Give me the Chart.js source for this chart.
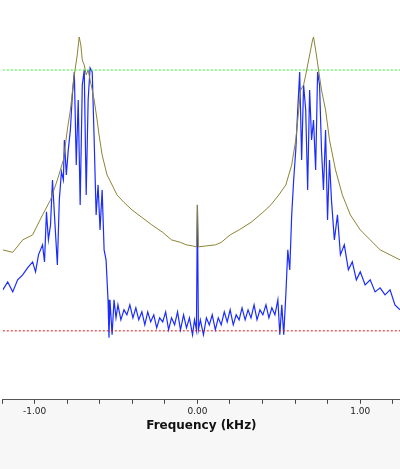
<!DOCTYPE html>
<html><head><meta charset="utf-8">
<script src="https://cdn.jsdelivr.net/npm/chart.js@4/dist/chart.umd.min.js"></script>
<style>html,body{margin:0;padding:0;background:#fff}#w{width:400px;height:469px}</style>
</head><body><div id="w"><canvas id="c"></canvas></div>
<script>
const olFreq=[-1.195,-1.134,-1.073,-1.012,-0.951,-0.902,-0.860,-0.823,-0.799,-0.780,-0.756,-0.738,-0.726,-0.716,-0.707,-0.695,-0.683,-0.671,-0.659,-0.646,-0.634,-0.616,-0.604,-0.585,-0.555,-0.524,-0.494,-0.451,-0.402,-0.341,-0.280,-0.213,-0.159,-0.104,-0.067,-0.030,-0.006,0,0.006,0.055,0.110,0.146,0.201,0.256,0.329,0.402,0.451,0.500,0.543,0.579,0.604,0.622,0.634,0.652,0.665,0.677,0.695,0.707,0.713,0.726,0.744,0.762,0.787,0.811,0.848,0.890,0.939,1.000,1.061,1.122,1.183,1.244];
const olLevel=[-50,-50.5,-48,-47,-43,-40,-36,-32,-26,-22,-15,-11,-7.4,-9,-12,-13,-15,-14,-16,-18,-20,-24,-27,-31,-35,-37,-39,-40.5,-42,-43.5,-45,-46.5,-48,-48.5,-49,-49.2,-49.4,-41,-49.4,-49.2,-49,-48.5,-47,-46,-44.5,-42.5,-41,-39,-37,-33,-28,-22,-18,-17,-15,-13,-10,-8,-7.4,-10,-14,-18,-22,-28,-34,-39,-43,-46,-48,-50,-51,-52];
const blFreq=[-1.195,-1.165,-1.134,-1.104,-1.073,-1.043,-1.012,-0.994,-0.976,-0.951,-0.939,-0.927,-0.915,-0.902,-0.890,-0.878,-0.860,-0.848,-0.835,-0.823,-0.817,-0.805,-0.793,-0.780,-0.768,-0.756,-0.744,-0.732,-0.720,-0.707,-0.695,-0.683,-0.671,-0.659,-0.646,-0.634,-0.622,-0.610,-0.598,-0.585,-0.573,-0.561,-0.549,-0.543,-0.537,-0.524,-0.512,-0.500,-0.488,-0.470,-0.451,-0.433,-0.415,-0.396,-0.378,-0.360,-0.341,-0.323,-0.305,-0.287,-0.268,-0.250,-0.232,-0.213,-0.195,-0.177,-0.159,-0.140,-0.122,-0.104,-0.085,-0.067,-0.049,-0.030,-0.018,-0.006,0,0.006,0.018,0.037,0.055,0.073,0.091,0.110,0.128,0.146,0.165,0.183,0.201,0.220,0.238,0.256,0.274,0.293,0.311,0.329,0.348,0.366,0.384,0.402,0.421,0.439,0.457,0.476,0.494,0.506,0.518,0.530,0.543,0.555,0.567,0.579,0.591,0.604,0.616,0.628,0.640,0.652,0.665,0.677,0.689,0.701,0.713,0.726,0.738,0.750,0.762,0.774,0.787,0.799,0.811,0.823,0.841,0.860,0.878,0.902,0.927,0.951,0.976,1.000,1.030,1.061,1.091,1.122,1.152,1.183,1.213,1.244];
const blLevel=[-58,-56.4,-58.4,-56,-55,-53.6,-52.4,-54.4,-51,-49,-52.4,-42.4,-48,-45,-36,-43,-53,-40,-34.4,-36,-28,-35,-30,-26,-19,-14.4,-33,-20,-41,-17,-14,-39,-20,-13.6,-14.4,-28,-43,-37,-46,-38,-50,-52,-60,-67.6,-60,-67,-60,-63.6,-61,-64,-62,-63,-61,-63.6,-61.6,-64,-62.4,-65,-62.4,-64.4,-63,-65.6,-63.6,-64.4,-62.4,-66,-63.6,-65,-62.4,-66,-63,-65.6,-63.6,-67,-64,-66,-41,-66,-64,-67,-63.6,-65,-63,-66,-63.6,-65,-62.4,-64.4,-62,-65,-63,-64,-61.6,-64,-62,-63.6,-61,-64,-62,-63,-61,-63.6,-61.6,-63,-60,-67,-61,-67,-59,-50,-54,-43,-36,-30,-22,-14.4,-32,-17,-22,-38,-18,-28,-24,-34,-14.4,-17,-30,-38,-26,-44,-32,-40,-48,-43,-51,-49,-54,-52.4,-56,-54.4,-57,-56,-58.4,-57.6,-59,-58,-61,-62];
const refHigh=-14, refLow=-66.2;
const xMin=-1.195, xMax=1.244;

const toPts=(xs,ys)=>xs.map((x,i)=>({x:x,y:ys[i]}));
const bgPlugin={id:'bg',beforeDraw(ch){const {ctx,chartArea:a}=ch;ctx.save();ctx.fillStyle='#f7f7f7';ctx.fillRect(0,a.bottom,ch.width,ch.height-a.bottom);ctx.restore();}};
new Chart(document.getElementById('c'),{
 type:'line',
 data:{datasets:[
  {data:toPts([xMin,xMax],[refHigh,refHigh]),borderColor:'#22ff22',borderWidth:1,borderDash:[2,2],pointRadius:0},
  {data:toPts([xMin,xMax],[refLow,refLow]),borderColor:'#dd1111',borderWidth:1,borderDash:[2,2],pointRadius:0},
  {data:toPts(olFreq,olLevel),borderColor:'#8c8435',borderWidth:1,pointRadius:0,tension:0},
  {data:toPts(blFreq,blLevel),borderColor:'#1a2cff',borderWidth:1.2,pointRadius:0,tension:0}
 ]},
 plugins:[bgPlugin],
 options:{responsive:true,maintainAspectRatio:false,animation:false,
  layout:{padding:{left:0,right:0,top:0,bottom:36}},
  plugins:{legend:{display:false},tooltip:{enabled:false}},
  scales:{
   y:{display:false,min:-80,max:0},
   x:{type:'linear',min:xMin,max:xMax,
    afterBuildTicks(s){s.ticks=[];for(let v=-1.2;v<=1.2001;v+=0.2){s.ticks.push({value:Math.round(v*10)/10});}},
    ticks:{autoSkip:false,maxRotation:0,padding:2,color:'#222',font:{family:'DejaVu Sans',size:9},
      callback:(v)=>Math.abs(v-Math.round(v))<1e-6?v.toFixed(2):''},
    grid:{drawOnChartArea:false,drawTicks:true,tickLength:4,color:'#444'},
    border:{color:'#555',width:1},
    title:{display:true,text:'Frequency (kHz)',color:'#111',padding:{top:0,bottom:0},font:{family:'DejaVu Sans',size:12,weight:'bold'}}
   }}
 }});
</script></body></html>
